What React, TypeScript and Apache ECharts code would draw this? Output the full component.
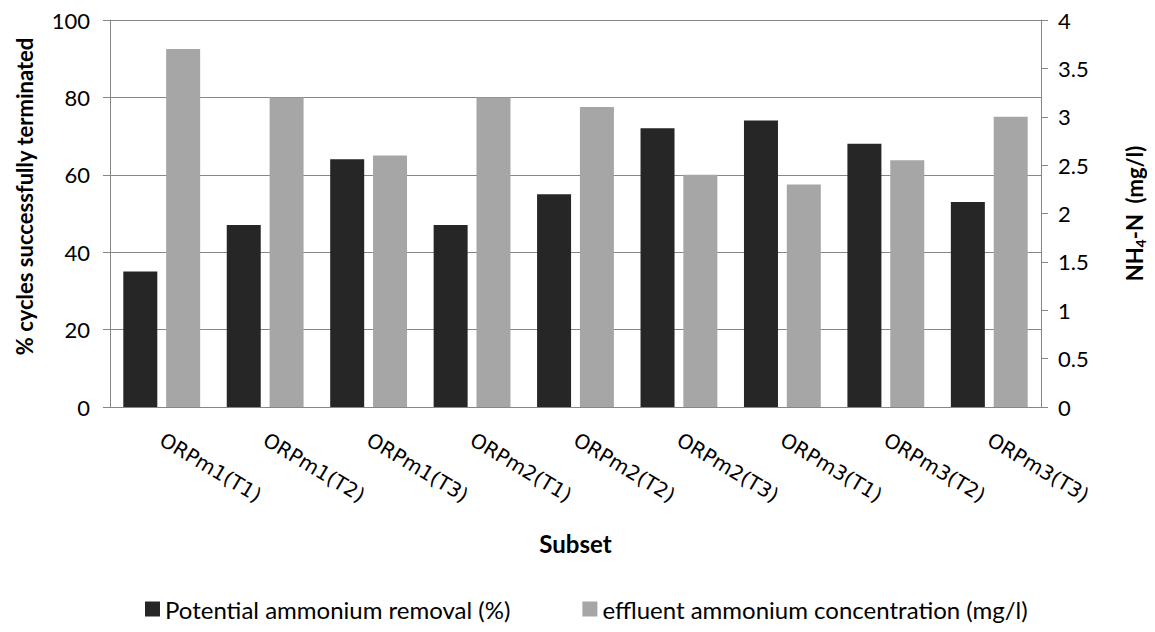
import React, { useEffect, useRef } from "react";
import * as echarts from "echarts";

// Subsets on the category axis
const categories = [
  "ORPm1(T1)",
  "ORPm1(T2)",
  "ORPm1(T3)",
  "ORPm2(T1)",
  "ORPm2(T2)",
  "ORPm2(T3)",
  "ORPm3(T1)",
  "ORPm3(T2)",
  "ORPm3(T3)",
];

// Potential ammonium removal (%) — left axis
const removalPct = [35, 47, 64, 47, 55, 72, 74, 68, 53];

// Effluent ammonium concentration (mg/l) — right axis
const effluentNH4 = [3.7, 3.2, 2.6, 3.2, 3.1, 2.4, 2.3, 2.55, 3.0];

const seriesNames = [
  "Potential ammonium removal (%)",
  "effluent ammonium concentration (mg/l)",
];

const FONT = "Lato, 'Noto Sans', sans-serif";
const AXIS_GREY = "#868686";

export default function App() {
  const ref = useRef<HTMLDivElement>(null);

  useEffect(() => {
    if (!ref.current) return;
    const chart = echarts.init(ref.current, undefined, { renderer: "svg" });
    chart.setOption({
      animation: false,
      backgroundColor: "#ffffff",
      textStyle: { fontFamily: FONT, color: "#000" },
      grid: { left: 110, right: 110, top: 20, bottom: 225, containLabel: false },
      legend: {
        left: 140,
        top: 592,
        itemWidth: 15,
        itemHeight: 15,
        itemGap: 72,
        icon: "rect",
        textStyle: { fontFamily: FONT, fontSize: 24, color: "#000" },
        data: seriesNames,
      },
      xAxis: {
        type: "category",
        data: categories,
        name: "Subset",
        nameLocation: "middle",
        nameGap: 124,
        nameTextStyle: { fontFamily: FONT, fontSize: 24, fontWeight: "bold", color: "#000" },
        axisLine: { lineStyle: { color: AXIS_GREY, width: 1 } },
        axisTick: { show: false },
        axisLabel: {
          rotate: -31,
          margin: 31,
          interval: 0,
          fontFamily: "'DejaVu Sans', sans-serif",
          fontSize: 20,
          color: "#000",
        },
      },
      yAxis: [
        {
          type: "value",
          min: 0,
          max: 100,
          interval: 20,
          name: "% cycles successfully terminated",
          nameLocation: "middle",
          nameGap: 75,
          nameTextStyle: {
            fontFamily: FONT,
            fontSize: 22,
            fontWeight: "bold",
            color: "#000",
            padding: [0, 0, 0, 34],
          },
          axisLine: { show: true, lineStyle: { color: AXIS_GREY, width: 1 } },
          axisTick: { show: true, length: 7, lineStyle: { color: AXIS_GREY } },
          axisLabel: { fontFamily: FONT, fontSize: 22, color: "#000", margin: 20 },
          splitLine: { show: true, lineStyle: { color: AXIS_GREY, width: 1 } },
        },
        {
          type: "value",
          min: 0,
          max: 4,
          interval: 0.5,
          position: "right",
          name: "{b|NH}{s|4}{b|-N  (mg/l)}",
          nameLocation: "middle",
          nameGap: 80,
          nameRotate: 90,
          nameTextStyle: {
            rich: {
              b: { fontFamily: FONT, fontSize: 22, fontWeight: "bold", color: "#000", lineHeight: 26 },
              s: {
                fontFamily: FONT,
                fontSize: 14,
                fontWeight: "bold",
                color: "#000",
                lineHeight: 26,
                padding: [12, 0, 0, 0],
              },
            },
          },
          axisLine: { show: true, lineStyle: { color: AXIS_GREY, width: 1 } },
          axisTick: { show: true, length: 7, lineStyle: { color: AXIS_GREY } },
          axisLabel: { fontFamily: FONT, fontSize: 22, color: "#000", margin: 17 },
          splitLine: { show: false },
        },
      ],
      series: [
        {
          name: seriesNames[0],
          type: "bar",
          yAxisIndex: 0,
          data: removalPct,
          barWidth: 34,
          barGap: "26%",
          itemStyle: { color: "#262626" },
        },
        {
          name: seriesNames[1],
          type: "bar",
          yAxisIndex: 1,
          data: effluentNH4,
          barWidth: 34,
          barGap: "26%",
          itemStyle: { color: "#a6a6a6" },
        },
      ],
    });
    return () => chart.dispose();
  }, []);

  return <div ref={ref} style={{ width: 1155, height: 632, margin: -8 }} />;
}
